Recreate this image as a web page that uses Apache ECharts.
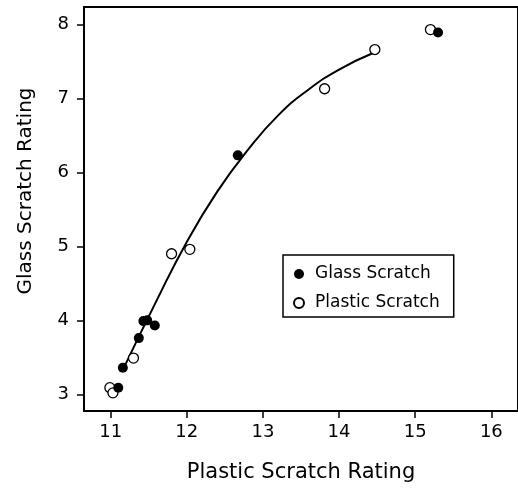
<!DOCTYPE html>
<html>
<head>
<meta charset="utf-8">
<script src="https://cdn.jsdelivr.net/npm/echarts@6/dist/echarts.min.js"></script>
<style>
  html, body { margin: 0; padding: 0; background: #fff; }
  #chart { width: 518px; height: 488px; }
</style>
</head>
<body>
<div id="chart"></div>
<script>
// values
var glassX = [11.10, 11.16, 11.37, 11.43, 11.48, 11.58, 12.67, 15.30]
var glassY = [3.09, 3.36, 3.76, 3.99, 4.00, 3.93, 6.23, 7.89]
var plasticX = [10.99, 11.03, 11.30, 11.80, 12.04, 13.81, 14.47, 15.20]
var plasticY = [3.09, 3.02, 3.49, 4.90, 4.96, 7.13, 7.66, 7.93]
// fitted curve, traced
var fitX = [11.16, 11.6, 12.0, 12.4, 12.8, 13.2, 13.6, 14.0, 14.44]
var fitY = [3.33, 4.26, 5.06, 5.74, 6.30, 6.77, 7.12, 7.39, 7.61]
var xTicks = [11, 12, 13, 14, 15, 16]
var yTicks = [3, 4, 5, 6, 7, 8]

function pairs (xs, ys) {
  return xs.map(function (x, i) { return [x, ys[i]] })
}

var font = 'DejaVu Sans'
var myChart = echarts.init(document.getElementById('chart'))
myChart.setOption({
  animation: false,
  backgroundColor: '#fff',
  grid: {
    left: 84,
    top: 7,
    right: -4,
    bottom: 77,
    show: true,
    borderColor: '#000',
    borderWidth: 2
  },
  legend: {
    orient: 'vertical',
    left: 283,
    top: 255,
    data: ['Glass Scratch', 'Plastic Scratch'],
    itemWidth: 22,
    itemHeight: 10,
    itemGap: 9,
    padding: [9, 14, 4, 10],
    backgroundColor: '#fff',
    borderColor: '#000',
    borderWidth: 1.5,
    borderRadius: 0,
    textStyle: { fontFamily: font, fontSize: 17, color: '#000', lineHeight: 20 }
  },
  xAxis: {
    type: 'value',
    min: 10.65,
    max: 16.35,
    name: 'Plastic Scratch Rating',
    nameLocation: 'middle',
    nameGap: 51,
    nameTextStyle: { fontFamily: font, fontSize: 21, color: '#000' },
    axisLine: { lineStyle: { color: '#000', width: 2 } },
    axisTick: { show: true, length: 7, lineStyle: { color: '#000', width: 1.5 }, customValues: xTicks },
    axisLabel: { fontFamily: font, fontSize: 18, color: '#000', margin: 12, customValues: xTicks },
    splitLine: { show: false }
  },
  yAxis: {
    type: 'value',
    min: 2.775,
    max: 8.235,
    name: 'Glass Scratch Rating',
    nameLocation: 'middle',
    nameGap: 48,
    nameTextStyle: { fontFamily: font, fontSize: 20, color: '#000', padding: [0, 0, 0, 36] },
    axisLine: { show: true, lineStyle: { color: '#000', width: 2 } },
    axisTick: { show: true, length: 7, lineStyle: { color: '#000', width: 1.5 }, customValues: yTicks },
    axisLabel: { fontFamily: font, fontSize: 18, color: '#000', margin: 15, customValues: yTicks },
    splitLine: { show: false }
  },
  series: [
    {
      name: 'fit',
      type: 'line',
      smooth: true,
      showSymbol: false,
      data: pairs(fitX, fitY),
      lineStyle: { color: '#000', width: 2 },
      z: 1
    },
    {
      name: 'Plastic Scratch',
      type: 'scatter',
      symbol: 'circle',
      symbolSize: 10,
      data: pairs(plasticX, plasticY),
      itemStyle: { color: '#fff', borderColor: '#000', borderWidth: 1.3, opacity: 1 },
      z: 2
    },
    {
      name: 'Glass Scratch',
      type: 'scatter',
      symbol: 'circle',
      symbolSize: 10,
      data: pairs(glassX, glassY),
      itemStyle: { color: '#000', opacity: 1 },
      z: 3
    }
  ]
})
</script>
</body>
</html>
